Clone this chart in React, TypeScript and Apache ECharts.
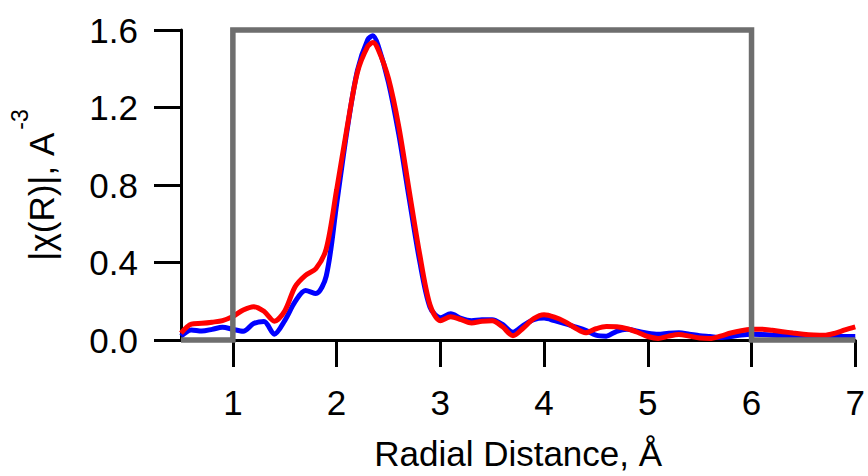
import React, { useEffect, useRef } from 'react';
import * as echarts from 'echarts';

const rGrid = [
  0.5, 0.6, 0.7, 0.8, 0.9, 1.0, 1.1, 1.2, 1.3, 1.4, 1.5, 1.6, 1.7, 1.8, 1.9,
  2.0, 2.1, 2.2, 2.3, 2.35, 2.4, 2.5, 2.6, 2.7, 2.8, 2.9, 3.0, 3.1, 3.2, 3.3,
  3.4, 3.5, 3.6, 3.7, 3.8, 3.9, 4.0, 4.1, 4.2, 4.3, 4.4, 4.5, 4.6, 4.7, 4.8,
  4.9, 5.0, 5.1, 5.2, 5.3, 5.4, 5.5, 5.6, 5.7, 5.8, 5.9, 6.0, 6.1, 6.2, 6.3,
  6.4, 6.5, 6.6, 6.7, 6.8, 6.9, 7.0,
];

const blueValues = [
  0.02, 0.052, 0.046, 0.055, 0.066, 0.055, 0.045, 0.085, 0.095, 0.03, 0.1,
  0.198, 0.255, 0.24, 0.33, 0.7, 1.08, 1.39, 1.55, 1.57, 1.52, 1.33, 1.06,
  0.73, 0.41, 0.17, 0.115, 0.135, 0.112, 0.1, 0.105, 0.105, 0.08, 0.04,
  0.075, 0.105, 0.113, 0.1, 0.085, 0.068, 0.05, 0.025, 0.02, 0.045, 0.055,
  0.045, 0.035, 0.03, 0.035, 0.037, 0.03, 0.022, 0.018, 0.013, 0.018, 0.026,
  0.03, 0.028, 0.025, 0.022, 0.02, 0.018, 0.018, 0.018, 0.018, 0.018, 0.018,
];

const redValues = [
  0.035, 0.082, 0.086, 0.092, 0.1, 0.122, 0.155, 0.172, 0.148, 0.097, 0.15,
  0.275, 0.334, 0.368, 0.47, 0.774, 1.093, 1.38, 1.515, 1.535, 1.5, 1.35,
  1.1, 0.77, 0.446, 0.182, 0.1, 0.12, 0.105, 0.088, 0.097, 0.1, 0.068,
  0.022, 0.062, 0.11, 0.13, 0.118, 0.095, 0.062, 0.037, 0.058, 0.07, 0.068,
  0.058, 0.04, 0.018, 0.008, 0.02, 0.028, 0.02, 0.01, 0.008, 0.02, 0.036,
  0.048, 0.055, 0.056, 0.05, 0.043, 0.036, 0.03, 0.026, 0.024, 0.034, 0.052,
  0.068,
];

const windowX = [0.5, 1, 1, 6, 6, 7];
const windowY = [0, 0, 1.6, 1.6, 0, 0];

const xTicks = [1, 2, 3, 4, 5, 6, 7];
const yTicks = [0, 0.4, 0.8, 1.2, 1.6];

const FONT = "'Liberation Sans', Arial, sans-serif";

export default function App() {
  const ref = useRef<HTMLDivElement>(null);

  useEffect(() => {
    document.body.style.margin = '0';
    if (!ref.current) return;
    const chart = echarts.init(ref.current, null, { renderer: 'svg' });
    const pair = (xs: number[], ys: number[]) => xs.map((x, i) => [x, ys[i]]);

    chart.setOption({
      animation: false,
      backgroundColor: '#ffffff',
      grid: { left: 181, right: 8, top: 30, bottom: 132, containLabel: false },
      xAxis: {
        type: 'value',
        min: 0.5,
        max: 7,
        name: 'Radial Distance, Å',
        nameLocation: 'middle',
        nameGap: 96,
        nameTextStyle: { fontSize: 35, color: '#000', fontFamily: FONT },
        axisLine: { show: true, onZero: false, lineStyle: { color: '#000', width: 3 } },
        axisTick: {
          show: true,
          customValues: xTicks,
          length: 27,
          lineStyle: { color: '#000', width: 3 },
        },
        axisLabel: {
          customValues: xTicks,
          fontSize: 35,
          color: '#000',
          fontFamily: FONT,
          margin: 45,
        },
        splitLine: { show: false },
      },
      yAxis: {
        type: 'value',
        min: 0,
        max: 1.6,
        interval: 0.4,
        name: '{m||χ(R)|, A}{s|-3}',
        nameLocation: 'middle',
        nameRotate: 90,
        nameGap: 122,
        nameTextStyle: {
          color: '#000',
          fontFamily: FONT,
          rich: {
            m: { fontSize: 35, color: '#000', fontFamily: FONT, verticalAlign: 'bottom', padding: [16, 0, 0, 0] },
            s: { fontSize: 23, color: '#000', fontFamily: FONT, verticalAlign: 'top', padding: [0, 0, 0, 3] },
          },
        },
        axisLine: { show: true, lineStyle: { color: '#000', width: 3 } },
        axisTick: {
          show: true,
          customValues: yTicks,
          length: 27,
          lineStyle: { color: '#000', width: 3 },
        },
        axisLabel: {
          customValues: yTicks,
          fontSize: 35,
          color: '#000',
          fontFamily: FONT,
          margin: 43,
          formatter: (v: number) => v.toFixed(1),
        },
        splitLine: { show: false },
      },
      series: [
        {
          type: 'line',
          name: 'data',
          data: pair(rGrid, blueValues),
          showSymbol: false,
          smooth: 0.3,
          lineStyle: { color: '#0000ff', width: 5 },
          itemStyle: { color: '#0000ff' },
        },
        {
          type: 'line',
          name: 'fit',
          data: pair(rGrid, redValues),
          showSymbol: false,
          smooth: 0.3,
          lineStyle: { color: '#ff0000', width: 5 },
          itemStyle: { color: '#ff0000' },
        },
        {
          type: 'line',
          name: 'window',
          data: pair(windowX, windowY),
          showSymbol: false,
          clip: false,
          lineStyle: { color: '#6e6e6e', width: 5.5, join: 'miter' },
          itemStyle: { color: '#6e6e6e' },
        },
      ],
    });

    return () => chart.dispose();
  }, []);

  return <div ref={ref} style={{ width: 868, height: 476 }} />;
}
